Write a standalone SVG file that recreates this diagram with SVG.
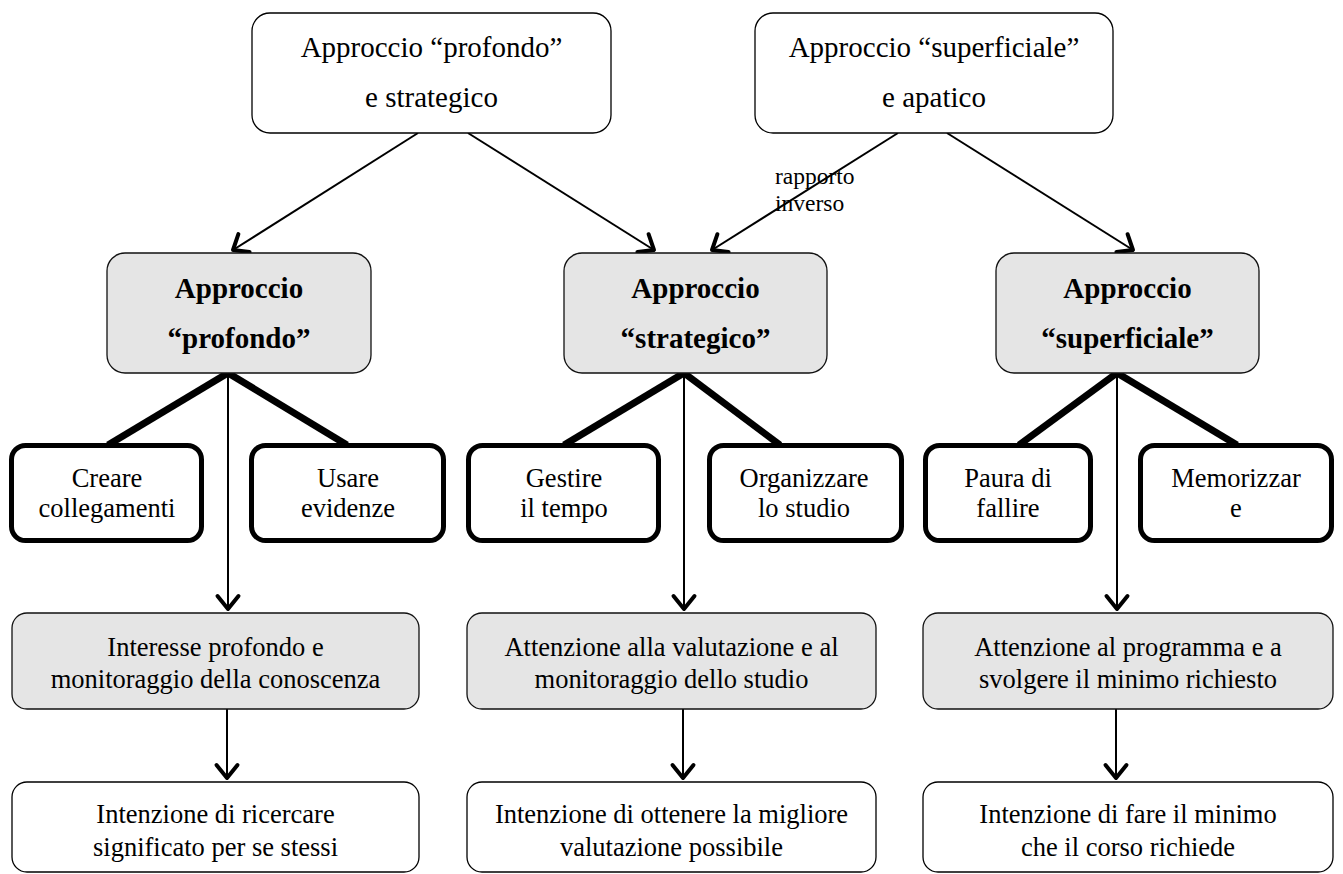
<svg xmlns="http://www.w3.org/2000/svg" width="1343" height="874" viewBox="0 0 1343 874">
<style>
text{font-family:"Liberation Serif","Times New Roman",serif;fill:#000;text-anchor:middle}
.t29{font-size:29px}
.b29{font-size:29px;font-weight:bold}
.t26{font-size:26.5px}
.lbl{font-size:23.5px;text-anchor:start}
.top{fill:#fff;stroke:#000;stroke-width:1.3}
.gray{fill:#e5e5e5;stroke:#111;stroke-width:1.3}
.thick{fill:#fff;stroke:#000;stroke-width:5}
.thin{stroke:#000;stroke-width:2;fill:none}
.fat{stroke:#000;stroke-width:7;fill:none;stroke-linecap:butt}
</style>
<defs>
<marker id="ah" markerUnits="userSpaceOnUse" viewBox="-20 -15 25 30" refX="0" refY="0" markerWidth="25" markerHeight="30" orient="auto">
<path d="M-13,-10.5 L0,0 L-13,10.5" fill="none" stroke="#000" stroke-width="4" stroke-linecap="round" stroke-linejoin="round"/>
</marker>
</defs>
<rect width="1343" height="874" fill="#fff"/>
<g id="connectors">
<line class="thin" x1="418" y1="133" x2="233" y2="250" marker-end="url(#ah)"/>
<line class="thin" x1="468" y1="133" x2="654" y2="250" marker-end="url(#ah)"/>
<line class="thin" x1="898" y1="133" x2="712" y2="250" marker-end="url(#ah)"/>
<line class="thin" x1="947" y1="133" x2="1133" y2="250" marker-end="url(#ah)"/>
<line class="fat" x1="228" y1="373" x2="108" y2="445"/>
<line class="fat" x1="228" y1="373" x2="347" y2="445"/>
<line class="fat" x1="684" y1="373" x2="564" y2="445"/>
<line class="fat" x1="684" y1="373" x2="780" y2="445"/>
<line class="fat" x1="1117" y1="373" x2="1019" y2="445"/>
<line class="fat" x1="1117" y1="373" x2="1237" y2="445"/>
<line class="thin" x1="228" y1="373" x2="228" y2="609" marker-end="url(#ah)"/>
<line class="thin" x1="684" y1="373" x2="684" y2="609" marker-end="url(#ah)"/>
<line class="thin" x1="1117" y1="373" x2="1117" y2="609" marker-end="url(#ah)"/>
<line class="thin" x1="227" y1="709" x2="227" y2="778" marker-end="url(#ah)"/>
<line class="thin" x1="683" y1="709" x2="683" y2="778" marker-end="url(#ah)"/>
<line class="thin" x1="1116" y1="709" x2="1116" y2="778" marker-end="url(#ah)"/>
<text class="lbl" x="775" y="184">rapporto</text>
<text class="lbl" x="775" y="211">inverso</text>
</g>
<g id="top1">
<rect class="top" x="252" y="13" width="359" height="120" rx="18"/>
<text class="t29" x="431.5" y="57">Approccio “profondo”</text>
<text class="t29" x="431.5" y="107">e strategico</text>
</g>
<g id="top2">
<rect class="top" x="755" y="13" width="358" height="120" rx="18"/>
<text class="t29" x="934" y="57">Approccio “superficiale”</text>
<text class="t29" x="934" y="107">e apatico</text>
</g>
<g id="deep">
<rect class="gray" x="107" y="253" width="264" height="120" rx="18"/>
<text class="b29" x="239" y="298">Approccio</text>
<text class="b29" x="239" y="348">“profondo”</text>
</g>
<g id="strategic">
<rect class="gray" x="564" y="253" width="263" height="120" rx="18"/>
<text class="b29" x="695.5" y="298">Approccio</text>
<text class="b29" x="695.5" y="348">“strategico”</text>
</g>
<g id="surface">
<rect class="gray" x="996" y="253" width="263" height="120" rx="18"/>
<text class="b29" x="1127.5" y="298">Approccio</text>
<text class="b29" x="1127.5" y="348">“superficiale”</text>
</g>
<g id="c1">
<rect class="thick" x="11.5" y="445.5" width="190" height="95" rx="14"/>
<text class="t26" x="107" y="487">Creare</text>
<text class="t26" x="107" y="517">collegamenti</text>
</g>
<g id="c2">
<rect class="thick" x="251.5" y="445.5" width="192" height="95" rx="14"/>
<text class="t26" x="348" y="487">Usare</text>
<text class="t26" x="348" y="517">evidenze</text>
</g>
<g id="c3">
<rect class="thick" x="468.5" y="445.5" width="190" height="95" rx="14"/>
<text class="t26" x="564" y="487">Gestire</text>
<text class="t26" x="564" y="517">il tempo</text>
</g>
<g id="c4">
<rect class="thick" x="709.5" y="445.5" width="192" height="95" rx="14"/>
<text class="t26" x="804" y="487">Organizzare</text>
<text class="t26" x="804" y="517">lo studio</text>
</g>
<g id="c5">
<rect class="thick" x="925.5" y="445.5" width="165" height="95" rx="14"/>
<text class="t26" x="1008" y="487">Paura di</text>
<text class="t26" x="1008" y="517">fallire</text>
</g>
<g id="c6">
<rect class="thick" x="1140.5" y="445.5" width="191" height="95" rx="14"/>
<text class="t26" x="1236" y="487">Memorizzar</text>
<text class="t26" x="1236" y="517">e</text>
</g>
<g id="m1">
<rect class="gray" x="12" y="613" width="407" height="96" rx="15"/>
<text class="t26" x="215.5" y="656">Interesse profondo e</text>
<text class="t26" x="215.5" y="688">monitoraggio della conoscenza</text>
</g>
<g id="m2">
<rect class="gray" x="467" y="613" width="409" height="96" rx="15"/>
<text class="t26" x="671.5" y="656">Attenzione alla valutazione e al</text>
<text class="t26" x="671.5" y="688">monitoraggio dello studio</text>
</g>
<g id="m3">
<rect class="gray" x="923" y="613" width="410" height="96" rx="15"/>
<text class="t26" x="1128" y="656">Attenzione al programma e a</text>
<text class="t26" x="1128" y="688">svolgere il minimo richiesto</text>
</g>
<g id="i1">
<rect class="top" x="12" y="782" width="407" height="90" rx="15"/>
<text class="t26" x="215.5" y="823">Intenzione di ricercare</text>
<text class="t26" x="215.5" y="856">significato per se stessi</text>
</g>
<g id="i2">
<rect class="top" x="467" y="782" width="409" height="90" rx="15"/>
<text class="t26" x="671.5" y="823">Intenzione di ottenere la migliore</text>
<text class="t26" x="671.5" y="856">valutazione possibile</text>
</g>
<g id="i3">
<rect class="top" x="923" y="782" width="410" height="90" rx="15"/>
<text class="t26" x="1128" y="823">Intenzione di fare il minimo</text>
<text class="t26" x="1128" y="856">che il corso richiede</text>
</g>
</svg>
